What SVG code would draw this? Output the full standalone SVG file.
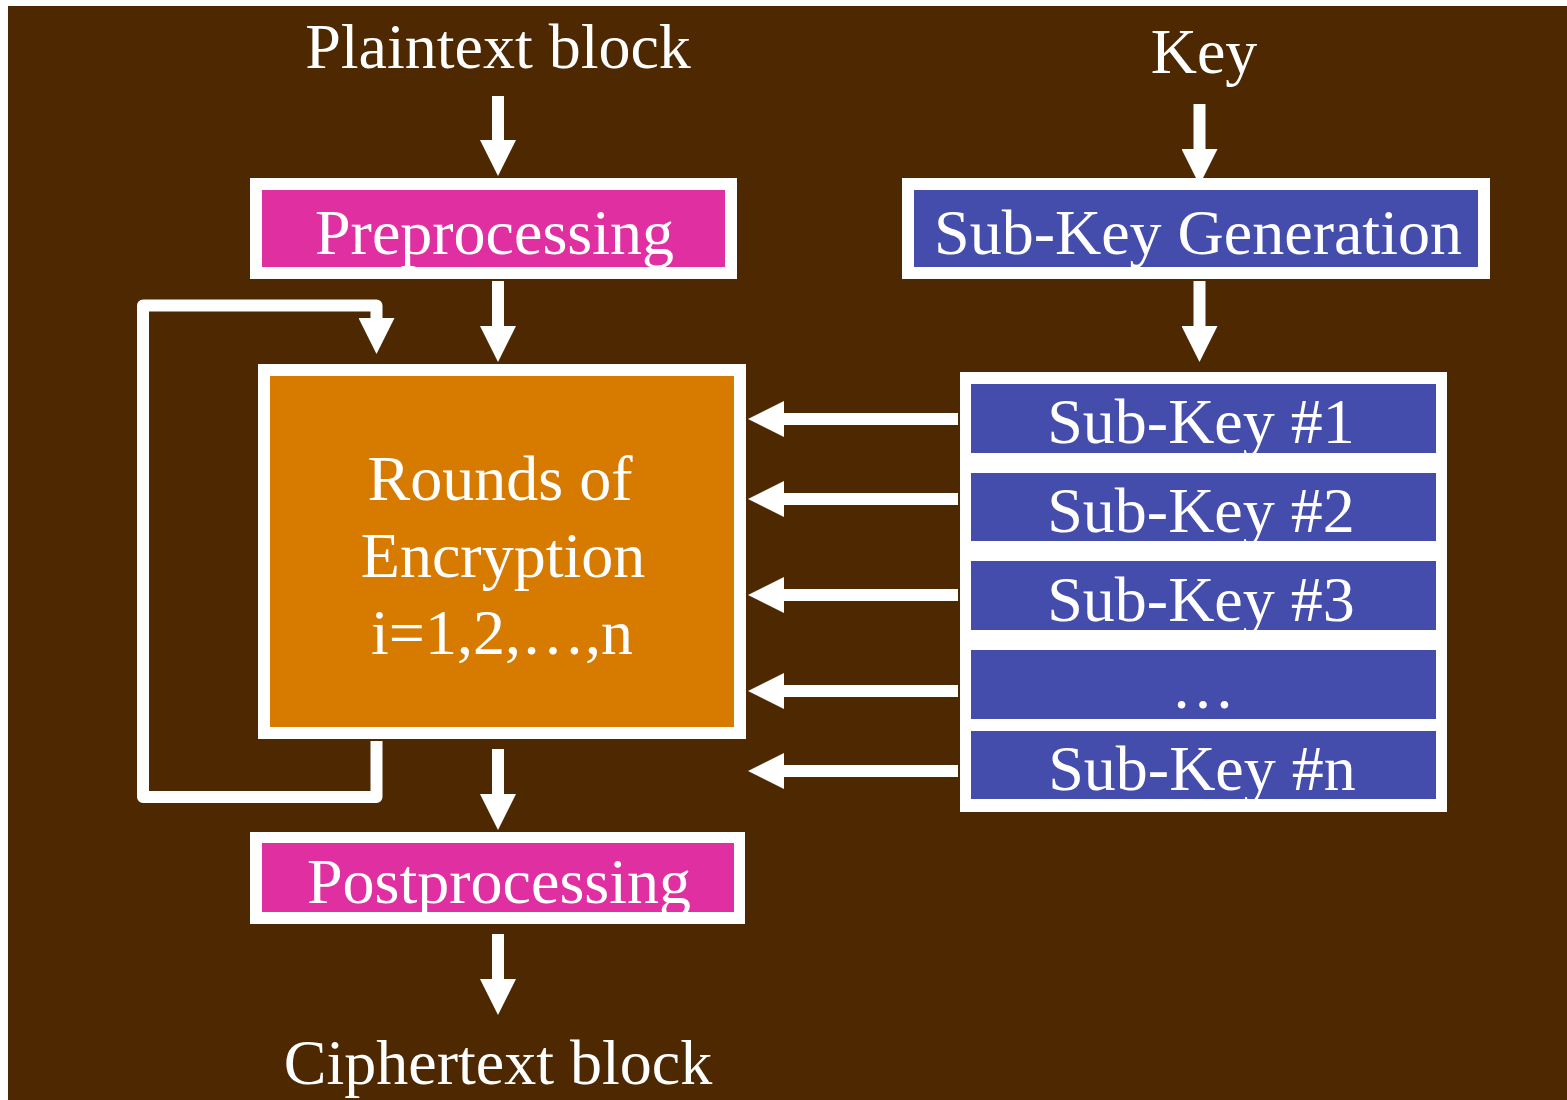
<svg xmlns="http://www.w3.org/2000/svg" width="1567" height="1100" viewBox="0 0 1567 1100">
  <style>
    .lbl { font-family: "Liberation Serif", "Times New Roman", serif; font-size: 64px; fill: #ffffff; text-anchor: middle; }
    .frame { fill: #ffffff; }
    .pink { fill: #df2fa0; }
    .blue { fill: #444cac; }
    .orange { fill: #d67a00; }
    .wire { fill: none; stroke: #ffffff; stroke-width: 12; }
  </style>
  <defs>
    <marker id="head" viewBox="0 0 36 36" markerWidth="36" markerHeight="36" markerUnits="userSpaceOnUse" refX="0" refY="18" orient="auto">
      <path d="M0,0 L36,18 L0,36 Z" fill="#ffffff"/>
    </marker>
  </defs>

  <!-- page background -->
  <rect x="0" y="0" width="1567" height="1100" fill="#ffffff"/>
  <rect x="8" y="6" width="1559" height="1094" fill="#4d2800"/>

  <!-- connectors -->
  <g id="connectors">
    <line class="wire" x1="498" y1="96" x2="498" y2="140" marker-end="url(#head)"/>
    <line class="wire" x1="1199.5" y1="104" x2="1199.5" y2="149" marker-end="url(#head)"/>
    <line class="wire" x1="498" y1="281" x2="498" y2="326" marker-end="url(#head)"/>
    <line class="wire" x1="1199.5" y1="281" x2="1199.5" y2="326" marker-end="url(#head)"/>
    <path class="wire" d="M376.5,741 V797 H143 V305.5 H376.5 V318" stroke-linejoin="round" marker-end="url(#head)"/>
    <line class="wire" x1="498" y1="749" x2="498" y2="794" marker-end="url(#head)"/>
    <line class="wire" x1="498" y1="934" x2="498" y2="979" marker-end="url(#head)"/>
    <line class="wire" x1="958" y1="419" x2="784" y2="419" marker-end="url(#head)"/>
    <line class="wire" x1="958" y1="499" x2="784" y2="499" marker-end="url(#head)"/>
    <line class="wire" x1="958" y1="595" x2="784" y2="595" marker-end="url(#head)"/>
    <line class="wire" x1="958" y1="691" x2="784" y2="691" marker-end="url(#head)"/>
    <line class="wire" x1="958" y1="771" x2="784" y2="771" marker-end="url(#head)"/>
  </g>

  <g id="plaintext">
    <text class="lbl" x="498" y="68">Plaintext block</text>
  </g>

  <g id="key">
    <text class="lbl" x="1204" y="73">Key</text>
  </g>

  <g id="preprocessing">
    <rect class="frame" x="250" y="178" width="487" height="101"/>
    <rect class="pink" x="262" y="190" width="463" height="77"/>
    <text class="lbl" x="494.5" y="254">Preprocessing</text>
  </g>

  <g id="subkey-generation">
    <rect class="frame" x="902" y="178" width="588" height="101"/>
    <rect class="blue" x="914" y="190" width="564" height="77"/>
    <text class="lbl" x="1198" y="254">Sub-Key Generation</text>
  </g>

  <g id="rounds">
    <rect class="frame" x="258" y="364" width="488" height="375"/>
    <rect class="orange" x="270" y="376" width="464" height="351"/>
    <text class="lbl" x="500" y="500">Rounds of</text>
    <text class="lbl" x="503" y="577">Encryption</text>
    <text class="lbl" x="502" y="654">i=1,2,…,n</text>
  </g>

  <g id="subkeys">
    <rect class="frame" x="960" y="372" width="487" height="440"/>
    <g id="subkey-1">
      <rect class="blue" x="971" y="384" width="465" height="69"/>
      <text class="lbl" x="1201" y="443">Sub-Key #1</text>
    </g>
    <g id="subkey-2">
      <rect class="blue" x="971" y="473" width="465" height="68"/>
      <text class="lbl" x="1201" y="532">Sub-Key #2</text>
    </g>
    <g id="subkey-3">
      <rect class="blue" x="971" y="561" width="465" height="69"/>
      <text class="lbl" x="1201" y="621">Sub-Key #3</text>
    </g>
    <g id="subkey-more">
      <rect class="blue" x="971" y="650" width="465" height="69"/>
      <text class="lbl" x="1203" y="708">…</text>
    </g>
    <g id="subkey-n">
      <rect class="blue" x="971" y="731" width="465" height="68"/>
      <text class="lbl" x="1202" y="790">Sub-Key #n</text>
    </g>
  </g>

  <g id="postprocessing">
    <rect class="frame" x="250" y="832" width="495" height="92"/>
    <rect class="pink" x="262" y="843" width="472" height="69"/>
    <text class="lbl" x="499" y="903">Postprocessing</text>
  </g>

  <g id="ciphertext">
    <text class="lbl" x="498" y="1084">Ciphertext block</text>
  </g>
</svg>
